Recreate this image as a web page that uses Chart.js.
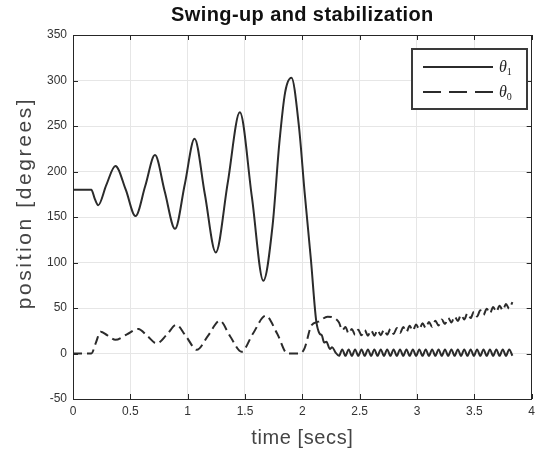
<!DOCTYPE html>
<html>
<head>
<meta charset="utf-8">
<script src="https://cdn.jsdelivr.net/npm/chart.js@4/dist/chart.umd.min.js"></script>
<style>
  html, body { margin: 0; padding: 0; background: #ffffff; }
  #wrap { position: relative; width: 540px; height: 454px; }
  canvas { display: block; }
</style>
</head>
<body>
<div id="wrap"><canvas id="c" width="540" height="454"></canvas></div>
<script>
// ---- chart data ----
const chartTitle = 'Swing-up and stabilization';
const xAxisTitle = 'time [secs]';
const yAxisTitle = 'position [degrees]';
const xTickValues = [0, 0.5, 1, 1.5, 2, 2.5, 3, 3.5, 4];
const yTickValues = [-50, 0, 50, 100, 150, 200, 250, 300, 350];
const seriesNames = ['θ1', 'θ0'];

// theta_1 (solid)
const theta1Time = [0, 0.16, 0.19, 0.22, 0.29, 0.37, 0.46, 0.545, 0.63, 0.715, 0.80, 0.89, 0.975, 1.06, 1.15, 1.245,
  1.35, 1.455, 1.56, 1.66, 1.74, 1.80, 1.85, 1.905, 1.97, 2.02, 2.075, 2.12, 2.15, 2.17, 2.19, 2.21, 2.24, 2.26, 2.29,
  2.32, 2.348, 2.376, 2.404, 2.432, 2.46, 2.488, 2.516, 2.544, 2.572, 2.60, 2.628, 2.656, 2.684, 2.712, 2.74, 2.768,
  2.796, 2.824, 2.852, 2.88, 2.908, 2.936, 2.964, 2.992, 3.02, 3.048, 3.076, 3.104, 3.132, 3.16, 3.188, 3.216, 3.244,
  3.272, 3.30, 3.328, 3.356, 3.384, 3.412, 3.44, 3.468, 3.496, 3.524, 3.552, 3.58, 3.608, 3.636, 3.664, 3.692, 3.72,
  3.748, 3.776, 3.804, 3.832];
const theta1Values = [180, 180, 170, 163, 185, 206, 180, 151, 184, 218, 178, 137, 186, 236, 175, 111,
  188, 265, 172, 80, 140, 232, 287, 303, 250, 177, 103, 37, 22, 20, 12, 13, 5, 7, 1,
  -2.5, 4.5, -2.5, 4.5, -2.5, 4.5, -2.5, 4.5, -2.5, 4.5, -2.5, 4.5, -2.5, 4.5, -2.5, 4.5, -2.5,
  4.5, -2.5, 4.5, -2.5, 4.5, -2.5, 4.5, -2.5, 4.5, -2.5, 4.5, -2.5, 4.5, -2.5, 4.5, -2.5, 4.5,
  -2.5, 4.5, -2.5, 4.5, -2.5, 4.5, -2.5, 4.5, -2.5, 4.5, -2.5, 4.5, -2.5, 4.5, -2.5, 4.5, -2.5,
  4.5, -2.5, 4.5, -2.5];

// theta_0 (dashed)
const theta0Time = [0, 0.16, 0.20, 0.24, 0.30, 0.37, 0.47, 0.57, 0.65, 0.73, 0.82, 0.90, 0.99, 1.08, 1.18, 1.28,
  1.37, 1.47, 1.57, 1.68, 1.78, 1.87, 1.98, 2.02, 2.08, 2.14, 2.22,
  2.32, 2.348, 2.376, 2.404, 2.432, 2.46, 2.488, 2.516, 2.544, 2.572, 2.60, 2.628, 2.656, 2.684, 2.712, 2.74, 2.768,
  2.796, 2.824, 2.852, 2.88, 2.908, 2.936, 2.964, 2.992, 3.02, 3.048, 3.076, 3.104, 3.132, 3.16, 3.188, 3.216, 3.244,
  3.272, 3.30, 3.328, 3.356, 3.384, 3.412, 3.44, 3.468, 3.496, 3.524, 3.552, 3.58, 3.608, 3.636, 3.664, 3.692, 3.72,
  3.748, 3.776, 3.804, 3.832];
const theta0Values = [0, 0, 12, 24, 20, 15, 21, 27, 19, 11, 21, 31.5, 18, 4, 20, 36,
  19, 2, 22, 41.5, 22, 0, 0, 6, 31, 35, 40.5,
  34, 25.5, 29, 22, 27, 20.5, 26, 20, 25.8, 19.6, 25.5, 19.6, 25.8, 20, 26.2, 20.6, 27,
  21.5, 28, 22.5, 29, 23.7, 30.4, 25, 32, 26.5, 33.2, 28, 34.6, 29.3, 36, 30.7, 37.5, 32.3,
  39.2, 34, 40.8, 35.7, 42.5, 37.4, 44.2, 39, 46, 40.7, 47.5, 42.4, 49.2, 44, 51, 45.8, 52.6,
  47.4, 54.3, 49.2, 56.5];

// ---- build library data ----
function toPoints(ts, vs) { return ts.map((t, i) => ({ x: t, y: vs[i] })); }

const LINE_COLOR = '#2b2b2b';
const AXIS_COLOR = '#262626';
const FONT = "'Liberation Sans', Arial, sans-serif";

const decorPlugin = {
  id: 'decor',
  afterDraw(chart) {
    const ctx = chart.ctx;
    const a = chart.chartArea;
    const xs = chart.scales.x, ys = chart.scales.y;
    ctx.save();
    // box
    ctx.strokeStyle = AXIS_COLOR;
    ctx.lineWidth = 1;
    ctx.setLineDash([]);
    ctx.strokeRect(Math.round(a.left) + 0.5, Math.round(a.top) + 0.5,
                   Math.round(a.right - a.left) - 1, Math.round(a.bottom - a.top));
    // inward ticks
    ctx.beginPath();
    xTickValues.forEach(v => {
      const px = Math.round(xs.getPixelForValue(v)) + 0.5;
      ctx.moveTo(px, a.bottom); ctx.lineTo(px, a.bottom - 5);
      ctx.moveTo(px, a.top); ctx.lineTo(px, a.top + 5);
    });
    yTickValues.forEach(v => {
      const py = Math.round(ys.getPixelForValue(v)) + 0.5;
      ctx.moveTo(a.left, py); ctx.lineTo(a.left + 5, py);
      ctx.moveTo(a.right, py); ctx.lineTo(a.right - 5, py);
    });
    ctx.stroke();

    // legend
    const lx = 412, ly = 49, lw = 115, lh = 60;
    ctx.fillStyle = '#ffffff';
    ctx.fillRect(lx, ly, lw, lh);
    ctx.strokeStyle = '#3a3a3a';
    ctx.lineWidth = 2;
    ctx.strokeRect(lx, ly, lw, lh);
    const ds = chart.data.datasets;
    const rows = [67, 92];
    rows.forEach((ry, i) => {
      ctx.strokeStyle = ds[i].borderColor;
      ctx.lineWidth = 2.2;
      ctx.setLineDash(i === 1 ? [18, 8] : []);
      ctx.beginPath();
      ctx.moveTo(423, ry); ctx.lineTo(493, ry);
      ctx.stroke();
      ctx.setLineDash([]);
      ctx.fillStyle = '#222';
      ctx.textAlign = 'left';
      ctx.textBaseline = 'alphabetic';
      ctx.font = "italic 16px 'Liberation Serif', serif";
      const name = seriesNames[i];
      ctx.fillText(name.charAt(0), 499, ry + 5);
      const w = ctx.measureText(name.charAt(0)).width;
      ctx.font = "10px 'Liberation Serif', serif";
      ctx.fillText(name.slice(1), 499 + w, ry + 8);
    });

    // titles
    const cx = (a.left + a.right) / 2;
    ctx.fillStyle = '#111';
    ctx.textAlign = 'center';
    ctx.textBaseline = 'alphabetic';
    ctx.font = "bold 20px " + FONT;
    if ('letterSpacing' in ctx) ctx.letterSpacing = '0.4px';
    ctx.fillText(chartTitle, cx, 21);

    ctx.fillStyle = '#444';
    ctx.font = "20px " + FONT;
    if ('letterSpacing' in ctx) ctx.letterSpacing = '0.6px';
    ctx.textBaseline = 'middle';
    ctx.fillText(xAxisTitle, cx, 438);

    ctx.save();
    ctx.translate(25, 203);
    ctx.rotate(-Math.PI / 2);
    ctx.font = "21px " + FONT;
    if ('letterSpacing' in ctx) ctx.letterSpacing = '2.6px';
    ctx.fillText(yAxisTitle, 0, 0);
    ctx.restore();
    ctx.restore();
  }
};

new Chart(document.getElementById('c'), {
  type: 'line',
  data: {
    datasets: [
      {
        label: seriesNames[0],
        data: toPoints(theta1Time, theta1Values),
        borderColor: LINE_COLOR,
        borderWidth: 2,
        pointRadius: 0,
        fill: false,
        cubicInterpolationMode: 'monotone'
      },
      {
        label: seriesNames[1],
        data: toPoints(theta0Time, theta0Values),
        borderColor: LINE_COLOR,
        borderWidth: 2,
        borderDash: [9, 5],
        pointRadius: 0,
        fill: false,
        cubicInterpolationMode: 'monotone'
      }
    ]
  },
  options: {
    responsive: false,
    animation: false,
    devicePixelRatio: 1,
    layout: { padding: { top: 35, right: 1, left: 0, bottom: 0 } },
    plugins: {
      legend: { display: false },
      title: { display: false },
      tooltip: { enabled: false }
    },
    scales: {
      x: {
        type: 'linear',
        min: 0, max: 4,
        afterBuildTicks(s) { s.ticks = xTickValues.map(v => ({ value: v })); },
        afterFit(s) { s.height = 55; },
        ticks: {
          color: '#333',
          font: { family: FONT, size: 12 },
          padding: 5,
          maxRotation: 0,
          autoSkip: false,
          callback: v => String(v)
        },
        grid: { color: '#e6e6e6', drawTicks: false, lineWidth: 1 },
        border: { display: true, color: AXIS_COLOR, width: 1 }
      },
      y: {
        type: 'linear',
        min: -50, max: 350,
        afterBuildTicks(s) { s.ticks = yTickValues.map(v => ({ value: v })); },
        afterFit(s) { s.width = 73; },
        ticks: {
          color: '#333',
          font: { family: FONT, size: 12 },
          padding: 6,
          autoSkip: false,
          callback: v => String(v)
        },
        grid: { color: '#e6e6e6', drawTicks: false, lineWidth: 1 },
        border: { display: true, color: AXIS_COLOR, width: 1 }
      }
    }
  },
  plugins: [decorPlugin]
});
</script>
</body>
</html>
